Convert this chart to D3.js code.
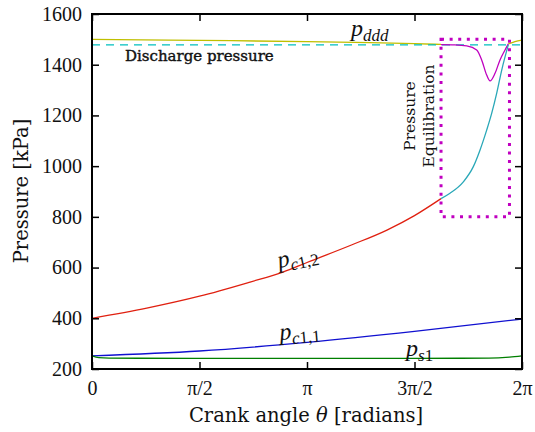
<!DOCTYPE html>
<html><head><meta charset="utf-8">
<script src="https://cdn.jsdelivr.net/npm/d3@7/dist/d3.min.js"></script>
<style>
body{margin:0;background:#fff;}
text{fill:#111;}
</style></head>
<body><svg id="c" width="535" height="432"></svg>
<script>
const PI = Math.PI;
// x tick positions and labels
const xTicks = [0, PI/2, PI, 3*PI/2, 2*PI];
const xTickLabels = ["0", "π/2", "π", "3π/2", "2π"];
const yTicks = [200, 400, 600, 800, 1000, 1200, 1400, 1600];

// p_ddd (yellow), before and after equilibration
const pdddTheta1 = [0, 1.5708, 3.1416, 4.06, 4.712, 5.1];
const pdddVals1  = [1500, 1496, 1491, 1487, 1483, 1480];
const pdddTheta2 = [6.083, 6.18, 6.283];
const pdddVals2  = [1482, 1491, 1497];

// discharge pressure
const dischargeP = 1478;

// equilibration (magenta)
const eqTheta = [5.1, 5.3, 5.475, 5.621, 5.694, 5.767, 5.816, 5.889, 5.962, 6.035, 6.083];
const eqVals  = [1479, 1478, 1474, 1458, 1419, 1359, 1336, 1366, 1419, 1458, 1482];

// p_c1,2 (red) compression
const pc12Theta = [0, 0.8, 1.5708, 2.31, 2.79, 3.1416, 3.8, 4.31, 4.712, 5.1];
const pc12Vals  = [400, 440, 487, 543, 582, 620, 690, 748, 805, 872];

// p_c1,2 continuation (cyan)
const pc12bTheta = [5.1, 5.231, 5.426, 5.572, 5.669, 5.767, 5.840, 5.913, 5.987, 6.083];
const pc12bVals  = [872, 893, 938, 998, 1063, 1142, 1208, 1287, 1379, 1478];

// p_c1,1 (blue)
const pc11Theta = [0, 1.5708, 3.1416, 4.712, 6.283];
const pc11Vals  = [252, 271, 305, 348, 397];

// p_s1 (green)
const ps1Theta = [0, 0.1, 0.25, 1.5, 3.14, 4.7, 5.8, 6.1, 6.283];
const ps1Vals  = [252, 245, 243, 242, 242, 242, 243, 247, 252];

// equilibration box
const boxTheta = [5.1, 6.1];
const boxP = [800, 1500];

const L = 92, R = 522, T = 14, B = 369;
const x = d3.scaleLinear().domain([0, 2*PI]).range([L, R]);
const y = d3.scaleLinear().domain([200, 1600]).range([B, T]);
const svg = d3.select("#c");

const line = d3.line().x(d => x(d[0])).y(d => y(d[1])).curve(d3.curveMonotoneX);
function draw(th, v, color, w, dash) {
  const p = svg.append("path").datum(th.map((t, i) => [t, v[i]]))
    .attr("d", line).attr("fill", "none").attr("stroke", color).attr("stroke-width", w);
  if (dash) p.attr("stroke-dasharray", dash);
  return p;
}

draw(pdddTheta1, pdddVals1, "#bfbf00", 1.3);
draw(pdddTheta2, pdddVals2, "#bfbf00", 1.3);
draw([0, 2*PI], [dischargeP, dischargeP], "#00bfbf", 1.3, "8,6");
draw(eqTheta, eqVals, "#bf00bf", 1.3);
draw(pc12Theta, pc12Vals, "#e02010", 1.3);
draw(pc12bTheta, pc12bVals, "#2aa8b8", 1.3);
draw(pc11Theta, pc11Vals, "#1010d0", 1.3);
draw(ps1Theta, ps1Vals, "#007f00", 1.3);

// dotted box
svg.append("rect")
  .attr("x", x(boxTheta[0])).attr("y", y(boxP[1]))
  .attr("width", x(boxTheta[1]) - x(boxTheta[0]))
  .attr("height", y(boxP[0]) - y(boxP[1]))
  .attr("fill", "none").attr("stroke", "#c000c0").attr("stroke-width", 3)
  .attr("stroke-dasharray", "3,5.6");

// axes (inside ticks on all sides)
const tl = 7;
const gB = svg.append("g").attr("transform", `translate(0,${B})`)
  .call(d3.axisBottom(x).tickValues(xTicks).tickSize(-tl).tickPadding(12).tickFormat((d, i) => xTickLabels[i]));
const gT = svg.append("g").attr("transform", `translate(0,${T})`)
  .call(d3.axisTop(x).tickValues(xTicks).tickSize(-tl).tickFormat(""));
const gL = svg.append("g").attr("transform", `translate(${L},0)`)
  .call(d3.axisLeft(y).tickValues(yTicks).tickSize(-tl).tickPadding(10).tickFormat(d3.format("d")));
const gR = svg.append("g").attr("transform", `translate(${R},0)`)
  .call(d3.axisRight(y).tickValues(yTicks).tickSize(-tl).tickFormat(""));
[gB, gT, gL, gR].forEach(g => {
  g.select(".domain").remove();
  g.selectAll(".tick line").attr("stroke", "#000").attr("stroke-width", 1.5);
  g.selectAll("text").style("font-family", "'Liberation Serif', serif").style("font-size", "20px").attr("fill", "#111");
});
svg.append("rect").attr("x", L).attr("y", T).attr("width", R - L).attr("height", B - T)
  .attr("fill", "none").attr("stroke", "#000").attr("stroke-width", 2);

const DJ = "'DejaVu Serif', serif";
// axis labels
svg.append("text").attr("x", 306).attr("y", 422).attr("text-anchor", "middle")
  .style("font-family", DJ).style("font-size", "19.5px")
  .html('Crank angle <tspan font-style="italic">θ</tspan> [radians]');
svg.append("text").attr("transform", "translate(28,191) rotate(-90)").attr("text-anchor", "middle")
  .style("font-family", DJ).style("font-size", "19.5px").text("Pressure [kPa]");

// annotations
svg.append("text").attr("x", 125).attr("y", 61).style("font-family", DJ).style("font-size", "15px")
  .attr("stroke", "#111").attr("stroke-width", 0.4).text("Discharge pressure");
svg.append("text").attr("transform", "translate(415,116) rotate(-90)").attr("text-anchor", "middle")
  .style("font-family", DJ).style("font-size", "15.5px").text("Pressure");
svg.append("text").attr("transform", "translate(434,116) rotate(-90)").attr("text-anchor", "middle")
  .style("font-family", DJ).style("font-size", "15.5px").text("Equilibration");

function mathLabel(tx, ty, rot, sub) {
  const t = svg.append("text").attr("transform", `translate(${tx},${ty}) rotate(${rot})`)
    .style("font-family", "'Liberation Serif', serif").style("font-size", "24px").style("font-style", "italic");
  t.append("tspan").text("p");
  sub.forEach((s, i) => {
    t.append("tspan").style("font-size", "17px").style("font-style", s[1] ? "italic" : "normal")
      .attr("dy", i === 0 ? 5 : 0).text(s[0]);
  });
}
mathLabel(351, 36, 0, [["ddd", true]]);
mathLabel(279, 268, -12, [["c", true], ["1,2", false]]);
mathLabel(280, 340, -5, [["c", true], ["1,1", false]]);
mathLabel(406, 356, 0, [["s", true], ["1", false]]);
</script></body></html>
